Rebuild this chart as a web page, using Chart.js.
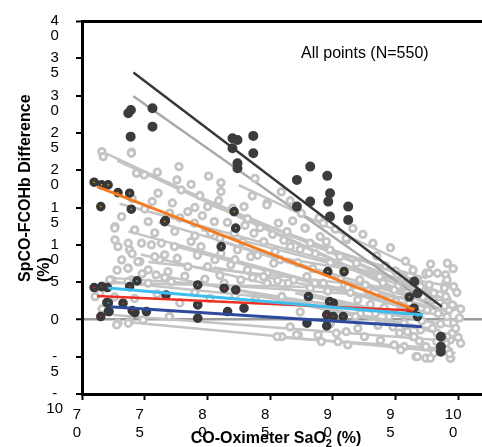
<!DOCTYPE html>
<html>
<head>
<meta charset="utf-8">
<script src="https://cdn.jsdelivr.net/npm/chart.js@4/dist/chart.umd.min.js"></script>
<style>
  html, body { margin: 0; padding: 0; background: #fff; }
  canvas { display: block; }
</style>
</head>
<body>
<canvas id="chart" width="482" height="447"></canvas>
<script>
// axis ranges and tick labels (labels wrap in the original, so they are kept as line arrays)
const X_MIN = 70, X_MAX = 101.9, Y_MIN = -10, Y_MAX = 40;
const X_TICK_LABELS = { 70: ["7", "0"], 75: ["7", "5"], 80: ["8", "0"], 85: ["8", "5"],
                        90: ["9", "0"], 95: ["9", "5"], 100: ["10", "0"] };
const Y_TICK_LABELS = { 40: ["", "4", "0"], 35: ["", "3", "5"], 30: ["", "3", "0"], 25: ["", "2", "5"],
                        20: ["", "2", "0"], 15: ["", "1", "5"], 10: ["", "1", "0"], 5: ["5"], 0: ["0"],
                        "-5": ["", "-", "5"], "-10": ["", "-", "10"] };
const Y_TITLE = ["SpCO-FCOHb Difference", "(%)"];
const X_TITLE = ["CO-Oximeter SaO", "2", " (%)"];
const NOTE = "All points (N=550)";

// per-subject regression lines, [x1, y1, x2, y2]
const GRAY_LINES = [
  [71.6, 22.5, 98.7, 1.3], [72.8, 21.3, 97.6, 2.0], [78.0, 17.4, 98.2, 3.0], [76.1, 13.0, 97.8, 2.2],
  [73.7, 11.8, 98.5, 0.5], [74.7, 8.7, 99.0, -0.8], [75.3, 7.7, 96.8, 3.8], [72.6, 5.0, 97.5, 0.8],
  [72.0, 5.6, 99.5, 2.5], [71.5, 4.9, 98.0, 4.0], [72.5, 0.6, 98.6, -2.8], [74.0, -0.4, 99.8, -4.5],
  [85.5, -2.4, 99.6, -4.0], [80.0, 15.5, 97.0, 5.0], [82.5, 18.0, 96.5, 7.0], [79.5, 12.0, 99.0, 3.5],
  [81.0, 10.5, 98.0, 1.5], [83.5, 13.5, 98.8, 2.8], [77.0, 10.0, 97.0, 1.0], [85.0, 8.5, 99.2, 4.5],
  [86.0, 11.5, 96.0, 6.0], [76.0, 6.0, 98.5, -1.5], [80.5, 7.0, 99.5, 1.0], [88.0, 10.0, 97.5, 5.5],
  [73.0, 15.5, 96.0, 5.0], [84.5, 3.0, 99.0, -2.0], [78.5, 5.0, 97.0, 0.0], [89.0, 8.0, 98.5, 3.0],
  [87.0, 3.5, 99.5, -1.0]
];
const MID_GRAY_LINE = [74.1, 29.9, 98.9, 0.6];
const DARK_LINE = [74.1, 33.1, 98.7, 1.7];
const ORANGE_LINE = [71.2, 17.8, 96.5, 1.3];
const CYAN_LINE = [72.1, 4.2, 97.2, 0.6];
const RED_LINE = [71.2, 3.15, 96.4, 1.2];
const BLUE_LINE = [72.2, 1.7, 97.1, -1.0];

// measurements, [x, y]
const GRAY_POINTS = [
  [71.58, 22.49], [73.96, 22.41], [74.35, 19.6], [74.97, 19.37], [76.01, 19.73], [77.73, 20.48], [77.57, 18.7], [81.08, 18.34],
  [76.07, 16.92], [77.91, 17.36], [81.08, 17.13], [83.58, 16.55], [84.77, 15.58], [82.92, 15.12], [80.02, 15.12], [78.44, 14.45],
  [76.99, 14.24], [73.16, 13.78], [72.63, 12.44], [75.28, 13.11], [78.96, 12.9], [80.55, 13.11], [80.28, 11.55], [82.13, 11.55],
  [83.71, 11.55], [84.5, 10.43], [72.63, 10.66], [73.69, 10.21], [74.75, 10.21], [75.54, 9.99], [76.33, 10.21], [77.38, 9.76],
  [78.7, 10.43], [79.49, 9.76], [81.08, 8.87], [82.4, 9.32], [83.45, 8.42], [76.59, 8.65], [76.19, 7.98], [74.61, 7.75],
  [73.16, 7.98], [73.69, 6.86], [75.28, 6.64], [76.86, 6.41], [78.44, 7.08], [80.02, 7.08], [81.87, 7.31], [83.19, 6.64],
  [84.77, 6.19], [85.29, 7.53], [72.37, 5.29], [73.96, 5.29], [75.28, 4.85], [77.12, 5.07], [81.34, 4.85], [82.66, 5.29],
  [84.77, 4.85], [72.87, -0.51], [73.8, -0.29], [71.69, 21.82], [73.93, 22.28], [72.61, 12.23], [72.87, 9.76], [73.8, 9.32],
  [74.45, 7.75], [73.66, 6.86], [75.91, 5.97], [72.22, 5.29], [73.66, 5.07], [71.42, 3.51],
  [87.8, 12.23], [89.25, 12.9], [88.99, 11.1], [91.1, 10.66], [86.35, 11.77], [86.61, 9.76], [88.2, 10.21], [89.78, 9.32],
  [90.57, 8.42], [91.89, 7.53], [99.14, 7.53], [97.43, 6.19], [98.35, 6.19], [99.01, 5.97], [96.76, 5.29], [97.69, 4.62],
  [99.01, 4.85], [86.88, 5.29], [87.94, 5.74], [89.25, 4.85], [92.15, 5.29], [93.73, 5.74], [95.18, 4.4],
  [84.74, 15.35], [85.66, 12.9], [87.78, 12.23], [89.49, 10.43], [91.07, 10.88], [97.67, 6.19], [99.11, 5.29], [99.64, 4.4],
  [98.06, 3.51], [99.11, 2.61], [99.64, 1.72], [97.53, 1.27], [99.11, 0.38], [99.64, -0.51], [95.69, -0.51], [97.0, -1.41],
  [98.32, -1.85], [99.37, -2.75], [94.9, -3.42], [95.69, -3.65], [97.27, -3.65], [98.06, -4.53], [99.11, -4.09], [85.93, -2.31],
  [87.25, -2.08], [88.83, -2.08], [90.28, -1.85], [92.52, -2.31], [90.41, -2.98], [91.2, -3.42], [89.09, -2.98], [83.82, 2.61],
  [85.93, 3.06], [88.04, 2.61], [90.15, 2.17], [91.99, 2.61], [93.84, 3.06], [84.48, 5.74], [86.46, 4.85], [88.57, 4.85],
  [90.94, 4.62], [92.78, 3.95], [94.9, 3.95],
  [96.64, -4.99], [97.43, -5.2], [99.41, -5.2], [97.43, -3.65], [99.01, -3.19], [99.53, -1.85], [95.32, -1.85], [95.85, -1.18],
  [96.37, -2.31], [97.95, -1.18], [99.27, 1.27], [99.53, 1.94], [99.01, 3.06],
  [72.77, -0.74], [73.69, -0.51], [74.88, -0.07], [76.99, 0.38], [71.05, 3.06], [85.56, -2.31],
  [87.11, -2.08], [91.07, -1.64], [76.96, 0.38], [95.42, -4.09], [96.48, -2.31], [96.74, -4.99], [97.79, -5.2], [99.37, -5.2],
  [99.11, -2.31], [95.95, -1.64],
  [93.5, 8.5], [94.2, 7.2], [95.0, 6.5], [95.8, 7.8], [94.6, 9.6], [93.2, 10.2], [92.4, 11.4], [91.6, 12.2],
  [97.8, 7.4], [99.6, 6.8], [98.9, 4.2], [97.2, 3.0], [96.1, 2.2], [95.4, 1.2], [94.5, 0.4], [93.6, -0.8],
  [98.4, 0.8], [97.1, -0.2], [99.8, -1.2], [98.6, -0.6], [100.1, 0.2], [100.2, -3.2], [98.8, -2.6], [96.9, -2.9],
  [95.0, 2.4], [94.1, 1.6], [93.0, 2.0], [92.2, 0.8], [91.4, 3.6], [90.6, 5.4], [89.8, 7.6], [88.6, 8.8],
  [87.4, 9.4], [86.1, 10.6], [85.4, 9.1], [84.2, 12.3], [83.2, 13.5], [82.0, 14.9], [80.9, 15.9], [79.4, 16.6],
  [78.7, 18.1], [80.1, 19.2], [83.8, 18.9], [85.9, 17.1], [86.6, 15.9], [87.5, 14.2], [88.9, 13.6], [90.2, 12.1],
  [74.0, 16.2], [75.6, 15.8], [77.2, 15.6], [79.0, 15.0], [75.0, 14.8], [77.8, 13.6], [79.6, 13.9], [81.6, 13.0],
  [83.0, 12.6], [74.2, 12.0], [75.8, 11.6], [77.4, 11.8], [79.0, 11.2], [81.0, 10.9], [82.8, 10.4], [85.2, 11.4],
  [86.8, 13.2], [74.0, 8.8], [75.8, 8.4], [77.6, 8.2], [79.2, 8.6], [80.6, 8.0], [82.2, 8.0], [84.0, 8.6],
  [85.8, 8.0], [87.2, 7.6], [88.4, 6.8], [72.8, 6.6], [74.8, 6.1], [76.6, 5.6], [78.2, 5.8], [79.8, 5.4],
  [81.0, 5.9], [83.6, 5.6], [85.6, 5.2], [88.2, 4.2], [89.6, 3.8], [91.2, 4.3], [92.6, 4.6], [94.0, 4.9],
  [95.6, 5.6], [96.4, 6.6], [97.0, 4.4], [98.0, 2.6], [96.6, 1.0], [98.9, 1.8], [99.9, 3.6], [100.2, 1.4],
  [100.0, -2.4], [99.3, -4.6], [98.3, -3.0], [93.8, -2.8], [92.0, -1.2], [89.8, -0.6], [86.6, -1.0],
  [77.8, 2.2], [80.2, 2.8], [82.2, 3.2], [79.0, 3.6], [76.0, 3.4], [74.2, 2.8], [72.6, 3.0], [71.6, 1.4],
  [87.4, 1.0], [91.8, 0.4], [93.4, 0.8], [94.8, -1.0]
];
const DARK_POINTS = [
  [73.9, 28.08], [73.69, 27.64], [75.62, 28.31], [75.62, 25.84], [73.88, 24.5], [82.0, 24.29], [82.4, 24.06], [83.66, 24.6],
  [82.0, 22.95], [83.66, 22.28], [82.4, 20.94], [82.4, 20.27], [88.2, 20.48], [87.14, 18.7], [89.56, 19.24], [89.78, 16.92],
  [89.64, 15.79], [87.14, 15.12], [88.2, 15.79], [91.23, 15.12], [91.23, 13.34], [89.78, 13.78], [98.62, -2.31], [98.62, -3.65],
  [98.62, -4.32], [96.5, 5.07], [96.76, 3.51]
];
const ORANGE_POINTS = [
  [70.97, 18.39], [71.56, 18.03], [72.08, 18.03], [71.5, 15.12], [72.87, 17.0], [73.8, 16.92], [73.93, 14.77], [76.65, 13.24],
  [81.1, 9.76], [82.13, 14.45], [82.26, 12.23], [76.59, 13.11], [89.6, 6.4], [90.9, 6.4], [96.1, 3.0], [96.48, 1.5]
];
const CYAN_POINTS = [
  [74.38, 5.16], [79.23, 4.62], [71.98, 2.25], [79.23, 1.94], [88.06, 3.06], [90.04, 2.17], [96.76, 0.38], [89.75, 2.39], [72.1, 2.2]
];
const RED_POINTS = [
  [70.97, 4.27], [71.56, 4.4], [72.03, 4.27], [73.8, 4.4], [71.5, 0.38], [73.27, 2.17], [74.01, 1.18], [76.7, 3.28],
  [81.34, 4.18], [82.26, 3.95], [89.52, 0.6], [90.04, 0.38], [90.83, 0.38], [96.24, 1.27]
];
const BLUE_POINTS = [
  [72.16, 1.05], [72.11, 1.05], [74.22, 0.91], [75.14, 1.05], [79.23, 0.16], [81.61, 1.05], [82.92, 1.5], [87.94, -0.51],
  [89.52, -0.87]
];

const FONT = '"Liberation Sans", Arial, sans-serif';
const toXY = (arr) => arr.map(([x, y]) => ({ x, y }));
const seg = (l) => [{ x: l[0], y: l[1] }, { x: l[2], y: l[3] }];
const near5 = (v) => Math.abs(v - Math.round(v / 5) * 5) < 1e-6;

function lineSet(l, color, width, order) {
  return { type: "line", data: seg(l), borderColor: color, borderWidth: width, pointRadius: 0,
           fill: false, tension: 0, order };
}
function pointSet(pts, fill, border, radius, bw, order) {
  return { type: "scatter", data: toXY(pts), backgroundColor: fill, borderColor: border,
           pointRadius: radius, pointBorderWidth: bw, borderWidth: bw, order };
}

const datasets = [
  lineSet(DARK_LINE, "#383838", 2.5, 1),
  lineSet(ORANGE_LINE, "#f47b20", 3, 1),
  lineSet(CYAN_LINE, "#3cbdee", 3, 1),
  lineSet(RED_LINE, "#ee3124", 2.5, 1),
  lineSet(BLUE_LINE, "#2d4a9c", 3, 1),
  pointSet(DARK_POINTS, "#3c3c3c", "#3c3c3c", 4, 2, 2),
  pointSet(ORANGE_POINTS, "#f7a11a", "#383838", 2.8, 4, 2),
  pointSet(CYAN_POINTS, "#3cbdee", "#383838", 2.8, 4, 2),
  pointSet(RED_POINTS, "#ee3124", "#383838", 2.8, 4, 2),
  pointSet(BLUE_POINTS, "#2d4a9c", "#383838", 2.8, 4, 2),
  pointSet(GRAY_POINTS, "#ffffff", "#c4c4c4", 3.3, 2.8, 3),
  lineSet(MID_GRAY_LINE, "#a9a9a9", 2.5, 4),
  ...GRAY_LINES.map((l) => lineSet(l, "#c4c4c4", 2.5, 5)),
];

const textPlugin = {
  id: "texts",
  afterDraw(chart) {
    const ctx = chart.ctx;
    ctx.save();
    ctx.fillStyle = "#000";
    // y title, two lines, starting at the bottom
    ctx.font = `bold 16px ${FONT}`;
    ctx.textBaseline = "middle";
    ctx.textAlign = "left";
    Y_TITLE.forEach((t, i) => {
      ctx.save();
      ctx.translate(26 + i * 18.5, 282);
      ctx.rotate(-Math.PI / 2);
      ctx.fillText(t, 0, 0);
      ctx.restore();
    });
    // x title with subscript
    ctx.textBaseline = "alphabetic";
    const big = `bold 16px ${FONT}`, small = `bold 11px ${FONT}`;
    ctx.font = big; const w1 = ctx.measureText(X_TITLE[0]).width, w3 = ctx.measureText(X_TITLE[2]).width;
    ctx.font = small; const w2 = ctx.measureText(X_TITLE[1]).width;
    let x = 276 - (w1 + w2 + w3) / 2;
    const base = 443;
    ctx.font = big; ctx.fillText(X_TITLE[0], x, base); x += w1;
    ctx.font = small; ctx.fillText(X_TITLE[1], x, base + 3.5); x += w2;
    ctx.font = big; ctx.fillText(X_TITLE[2], x, base);
    // note
    ctx.font = `16px ${FONT}`;
    ctx.fillText(NOTE, 301, 58);
    ctx.restore();
  },
};

new Chart(document.getElementById("chart"), {
  data: { datasets },
  plugins: [textPlugin],
  options: {
    responsive: false,
    animation: false,
    devicePixelRatio: 1,
    layout: { autoPadding: false, padding: { top: 21, right: 0, left: 0, bottom: 0 } },
    plugins: { legend: { display: false }, tooltip: { enabled: false } },
    scales: {
      x: {
        type: "linear", min: X_MIN, max: X_MAX,
        afterBuildTicks: (s) => { s.ticks = s.ticks.filter((t) => near5(t.value)); },
        afterFit: (s) => { s.height = 53; s.paddingLeft = 0; s.paddingRight = 0; },
        border: { color: "#000", width: 3 },
        grid: { drawOnChartArea: false, tickLength: 6, tickColor: "#000", tickWidth: 2 },
        ticks: {
          stepSize: 5, includeBounds: false, autoSkip: false, maxRotation: 0, padding: 6, labelOffset: -5,
          color: "#000", font: { family: FONT, size: 15, lineHeight: "18px" },
          callback: (v) => X_TICK_LABELS[Math.round(v)] || "",
        },
      },
      y: {
        type: "linear", min: Y_MIN, max: Y_MAX,
        afterFit: (s) => { s.width = 82; s.paddingTop = 0; s.paddingBottom = 0; },
        border: { color: "#000", width: 3 },
        grid: {
          color: (c) => (c.tick.value === 0 ? "#9a9a9a" : c.tick.value === 40 ? "#000" : "rgba(0,0,0,0)"),
          lineWidth: (c) => (c.tick.value === 0 ? 2.5 : c.tick.value === 40 ? 3 : 0),
          tickLength: 6, tickColor: "#000", tickWidth: 2,
        },
        ticks: {
          stepSize: 5, autoSkip: false, padding: 13, crossAlign: "center",
          color: "#000", font: { family: FONT, size: 15, lineHeight: "15px" },
          callback: (v) => Y_TICK_LABELS[Math.round(v)] || "",
        },
      },
    },
  },
});
</script>
</body>
</html>
